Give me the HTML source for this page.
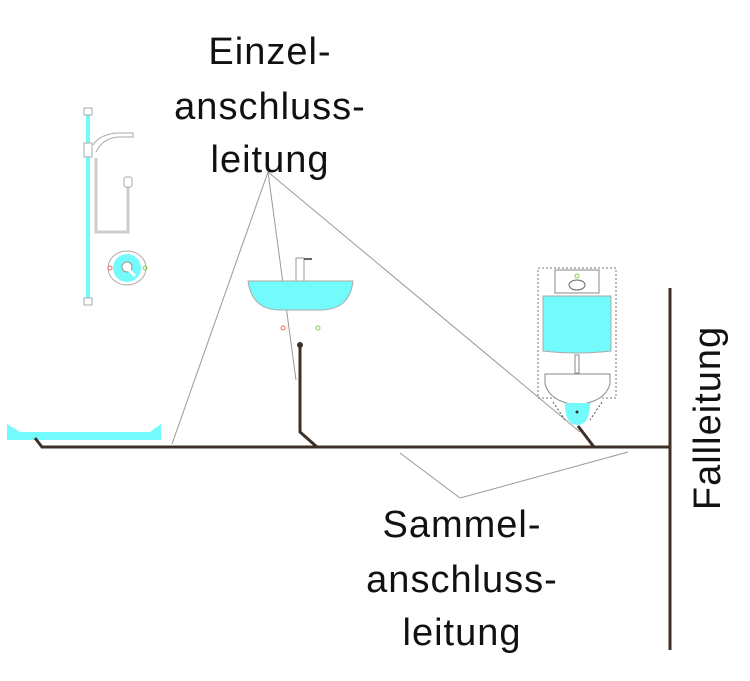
<!DOCTYPE html>
<html><head><style>
body{margin:0;background:#fff;width:750px;height:676px;overflow:hidden}
text{font-family:"Liberation Sans",sans-serif;fill:#111}
</style></head><body>
<svg width="750" height="676" viewBox="0 0 750 676" xmlns="http://www.w3.org/2000/svg">
<g font-size="38" text-anchor="middle" style="letter-spacing:1px">
<text x="270" y="64">Einzel-</text>
<text x="270" y="119">anschluss-</text>
<text x="270" y="172">leitung</text>
<text x="462" y="537">Sammel-</text>
<text x="462" y="592">anschluss-</text>
<text x="462" y="645">leitung</text>
<text x="0" y="0" transform="translate(720,418) rotate(-90)">Fallleitung</text>
</g>
<g stroke="#999" stroke-width="1" fill="none">
<path d="M268 172 L172 444 M268 172 L296 380 M268 172 L580 432"/>
<path d="M460 498 L400 453 M460 498 L628 452"/>
</g>
<path d="M7 424 L20 432 L150 432 L161 424 L161 440 L7 440 Z" fill="#73fafa"/>
<line x1="88" y1="110" x2="88" y2="300" stroke="#73fafa" stroke-width="4"/>
<g fill="#fff" stroke="#aaa" stroke-width="1">
<rect x="84" y="108" width="8" height="7"/><rect x="84" y="298" width="8" height="7"/>
<rect x="84" y="143" width="8" height="14"/>
<path d="M93 145 Q100 134 118 133 L133 133 L133 137 L118 137 Q103 138 96 152" />
<path d="M96 158 L96 232 L128 232 L128 185" fill="none" stroke-width="3" stroke="#ccc"/>
<rect x="124" y="177" width="8" height="10" rx="2"/>
<ellipse cx="127" cy="268" rx="19" ry="17"/>
</g>
<circle cx="127" cy="268" r="14" fill="#73fafa"/>
<circle cx="127" cy="267" r="5" fill="#fff" stroke="#999"/>
<line x1="128" y1="269" x2="135" y2="276" stroke="#fff" stroke-width="3"/>
<circle cx="110" cy="268" r="2" fill="none" stroke="#f66"/>
<circle cx="145" cy="268" r="2" fill="none" stroke="#8c4"/>
<rect x="296" y="258" width="8" height="23" fill="#fff" stroke="#999"/>
<line x1="304" y1="259" x2="312" y2="259" stroke="#666" stroke-width="2"/>
<path d="M248 281 L353 281 Q350 310 320 310 L280 310 Q252 310 248 281 Z" fill="#73fafa" stroke="#aaa"/>
<circle cx="283" cy="328" r="2" fill="none" stroke="#f66"/>
<circle cx="318" cy="328" r="2" fill="none" stroke="#8c4"/>
<rect x="538" y="268" width="78" height="130" fill="none" stroke="#777" stroke-dasharray="2,2"/>
<rect x="555" y="270" width="44" height="23" fill="#fff" stroke="#888"/>
<ellipse cx="577" cy="285" rx="8" ry="5" fill="none" stroke="#666"/>
<circle cx="577" cy="276" r="2" fill="none" stroke="#8c4"/>
<path d="M543 296 L611 296 L611 351 Q577 355 543 351 Z" fill="#73fafa" stroke="#aaa"/>
<rect x="575" y="355" width="4" height="18" fill="#fff" stroke="#888"/>
<path d="M545 374 L610 374 L610 384 Q605 402 577 405 Q550 402 545 384 Z" fill="#fff" stroke="#888"/>
<path d="M553 402 L565 420 M602 402 L590 420" stroke="#555" stroke-dasharray="2,2"/>
<path d="M565 403 L590 403 Q590 425 577 425 Q565 425 565 403 Z" fill="#73fafa"/>
<circle cx="577" cy="412" r="1.5" fill="#333"/>
<g stroke="#3e3026" stroke-width="3" fill="none">
<path d="M35 438 L42 447 L670 447"/>
<path d="M300 345 L300 432 L317 447"/>
<path d="M578 426 L594 447"/>
<line x1="670" y1="288" x2="670" y2="650"/>
</g>
<circle cx="300" cy="345" r="3" fill="#3e3026"/>
</svg>
</body></html>
